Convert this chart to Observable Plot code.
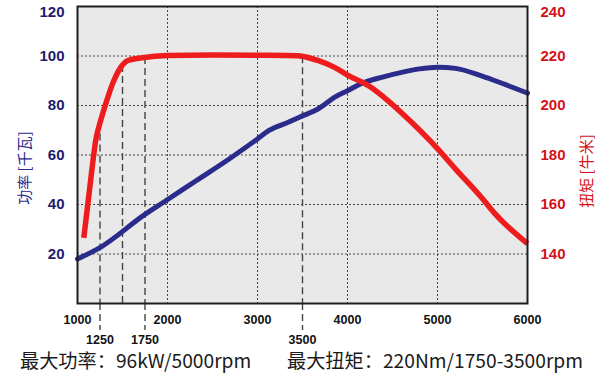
<!DOCTYPE html>
<html><head><meta charset="utf-8">
<script src="https://cdn.jsdelivr.net/npm/d3@7"></script>
<script src="https://cdn.jsdelivr.net/npm/@observablehq/plot@0.6"></script>
<style>
body{margin:0;background:#fff;}
#chart{position:relative;width:600px;height:373px;overflow:hidden;}
#chart svg{display:block;}
.cap{position:absolute;top:348px;font-family:"Noto Sans CJK SC","Noto Sans",sans-serif;font-size:19.2px;color:#1a1a1a;white-space:nowrap;line-height:24px;}
</style></head><body><div id="chart"></div>
<script>
// Data
const rpmTicks = [1000, 2000, 3000, 4000, 5000, 6000];
const rpmGrid = [2000, 3000, 4000, 5000];
const markRpm = [1250, 1750, 3500];
const guideRpm = [1250, 1500, 1750, 3500];
const powerTicks = [20, 40, 60, 80, 100];
const powerTopTick = [120];
const powerGrid = [20, 40, 60, 80, 100];
const torqueTicks = [140, 160, 180, 200, 220, 240];
const torqueOffset = 120; // right axis 140..240 aligned with left 20..120

const powerRpm = [1000, 1250, 1750, 1956, 2322, 2689, 3000, 3128, 3348, 3513, 3677, 3859, 4000, 4151, 4400, 4602, 4800, 5000, 5200, 5489, 5750, 6000];
const powerKw  = [18, 22.6, 36, 40.9, 49.7, 58.5, 66.5, 69.9, 73.3, 76, 78.7, 83.4, 86, 88.8, 91.6, 93.4, 94.8, 95.5, 95, 92, 88.5, 85];

const torqueRpm = [1070, 1137, 1208, 1247, 1325, 1404, 1482, 1561, 1718, 2000, 2500, 3000, 3450, 3598, 3670, 3850, 4000, 4261, 4409, 4602, 5000, 5196, 5489, 5630, 6000];
const torqueNm  = [146.5, 167, 187, 192.6, 202, 210.1, 215.5, 218.2, 219.3, 220.2, 220.4, 220.3, 220.1, 219, 218.2, 215.5, 212.3, 207.4, 203.2, 197, 182.6, 174.5, 162.8, 156.6, 144.2];

const yLabelLeft = "功率 [千瓦]";
const yLabelRight = "扭矩 [牛米]";
const caption1 = "最大功率：96kW/5000rpm";
const caption2 = "最大扭矩：220Nm/1750-3500rpm";

// Derived tables
const power = powerRpm.map((r, i) => ({rpm: r, v: powerKw[i]}));
const torque = torqueRpm.map((r, i) => ({rpm: r, v: torqueNm[i] - torqueOffset}));
const interpTorque = (r) => {
  for (let i = 1; i < torqueRpm.length; i++) {
    if (r <= torqueRpm[i]) {
      const t = (r - torqueRpm[i-1]) / (torqueRpm[i] - torqueRpm[i-1]);
      return torqueNm[i-1] + t * (torqueNm[i] - torqueNm[i-1]);
    }
  }
  return torqueNm[torqueNm.length - 1];
};
const guides = guideRpm.map(r => ({rpm: r, top: interpTorque(r) - torqueOffset}));
const torqueMain = torqueTicks.filter(t => t < 240).map(t => t - torqueOffset);
const torqueTop = torqueTicks.filter(t => t >= 240).map(t => t - torqueOffset);

const navy = "#2b2b8c";
const red = "#ee1c1c";
const tickFont = "'Liberation Sans', Arial, sans-serif";
const fmt = d => String(d);
const leftStyle = {anchor: "left", tickSize: 0, tickPadding: 13, fontSize: 15, fontWeight: "bold", fill: "#1c1c6e", label: null, tickFormat: fmt};
const rightStyle = {anchor: "right", tickSize: 0, tickPadding: 13, fontSize: 15, fontWeight: "bold", fill: "#d4111a", label: null, tickFormat: d => String(d + torqueOffset)};

const plot = Plot.plot({
  width: 600,
  height: 343,
  marginLeft: 77,
  marginRight: 73,
  marginTop: 6,
  marginBottom: 40,
  style: {fontFamily: tickFont, background: "transparent", overflow: "visible"},
  x: {type: "linear", domain: [1000, 6000]},
  y: {domain: [0, 120]},
  marks: [
    Plot.frame({fill: "#e9e9e9", stroke: null}),
    Plot.gridX(rpmGrid, {stroke: "#444", strokeOpacity: 1, strokeWidth: 1, strokeDasharray: "2,2"}),
    Plot.gridY(powerGrid, {stroke: "#444", strokeOpacity: 1, strokeWidth: 1, strokeDasharray: "2,2"}),
    Plot.ruleX(guides, {x: "rpm", y1: "top", y2: 0, stroke: "#444", strokeWidth: 1.4, strokeDasharray: "7,4"}),
    Plot.axisX(rpmTicks, {tickSize: 0, tickPadding: 12, fontSize: 12.5, fontWeight: "bold", fill: "#111", label: null, tickFormat: fmt}),
    Plot.axisX(markRpm, {tickSize: 27, tickPadding: 5, fontSize: 12.5, fontWeight: "bold", fill: "#111", stroke: "#444", strokeWidth: 1.4, strokeDasharray: "7,4", label: null, tickFormat: fmt}),
    Plot.axisY(powerTicks, leftStyle),
    Plot.axisY(powerTopTick, {...leftStyle, dy: 6}),
    Plot.axisY(torqueMain, rightStyle),
    Plot.axisY(torqueTop, {...rightStyle, dy: 6}),
    Plot.line(power, {x: "rpm", y: "v", stroke: navy, strokeWidth: 5, curve: "monotone-x"}),
    Plot.line(torque, {x: "rpm", y: "v", stroke: red, strokeWidth: 5.5, curve: "monotone-x", strokeLinecap: "butt"}),
    Plot.frame({stroke: "#1e1e1e", strokeWidth: 2})
  ]
});
const chart = document.getElementById("chart");
chart.appendChild(plot);

// Rotated axis titles
const svg = d3.select(plot);
svg.append("text")
  .attr("transform", "translate(30,168) rotate(-90)")
  .attr("text-anchor", "middle")
  .attr("font-family", "'Noto Sans CJK SC', sans-serif")
  .attr("font-size", 15)
  .attr("fill", "#2b2b8c")
  .text(yLabelLeft);
svg.append("text")
  .attr("transform", "translate(592,171) rotate(-90)")
  .attr("text-anchor", "middle")
  .attr("font-family", "'Noto Sans CJK SC', sans-serif")
  .attr("font-size", 15)
  .attr("fill", "#d4111a")
  .text(yLabelRight);

const c1 = document.createElement("div");
c1.className = "cap"; c1.style.left = "20px"; c1.textContent = caption1;
const c2 = document.createElement("div");
c2.className = "cap"; c2.style.left = "287px"; c2.textContent = caption2;
chart.appendChild(c1); chart.appendChild(c2);
</script>
</body></html>
